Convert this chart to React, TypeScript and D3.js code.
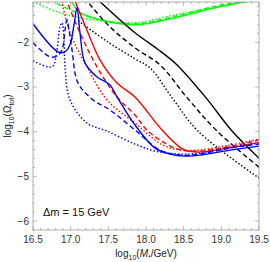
import React, { useEffect, useRef } from 'react';
import * as d3 from 'd3';

type Pt = [number, number];

// x = log10(M*/GeV), y = log10(Omega_tot)
const blackSolid: Pt[] = [[17.33, -1.0], [17.854, -1.789], [18.15, -2.15], [18.412, -2.507], [18.8, -3.25], [19.142, -3.987], [19.5, -4.592]];
const blackDashed: Pt[] = [[17.18, -1.0], [17.5, -1.62], [17.854, -2.126], [18.186, -2.507], [18.55, -3.25], [18.943, -3.987], [19.5, -4.794]];
const blackDotted: Pt[] = [[17.1, -1.52], [17.5, -2.0], [17.854, -2.372], [18.053, -2.574], [18.35, -3.25], [18.69, -3.987], [19.5, -5.04]];

const redSolid: Pt[] = [[17.04, -1.0], [17.23, -1.789], [17.389, -2.395], [17.615, -2.91], [17.854, -3.224], [18.226, -3.987], [18.491, -4.39], [18.69, -4.457], [19.115, -4.36], [19.5, -4.24]];
const redDashed: Pt[] = [[16.93, -1.0], [17.124, -1.789], [17.35, -2.552], [17.615, -3.224], [17.854, -3.628], [18.027, -3.987], [18.385, -4.368], [18.65, -4.44], [19.115, -4.33], [19.5, -4.19]];
const redDotted: Pt[] = [[16.87, -1.0], [16.991, -1.789], [17.217, -2.552], [17.482, -3.291], [17.854, -3.807], [18.252, -4.323], [18.584, -4.42], [19.115, -4.3], [19.5, -4.166]];

const blueSolid: Pt[] = [[16.5, -1.587], [16.832, -2.215], [16.925, -2.215], [16.991, -2.058], [17.044, -1.61], [17.084, -1.228], [17.124, -1.789], [17.19, -2.462], [17.35, -2.776], [17.522, -2.955], [17.615, -3.224], [17.748, -3.583], [17.854, -3.852], [18.12, -4.368], [18.319, -4.502], [18.518, -4.547], [18.717, -4.525], [19.115, -4.413], [19.5, -4.323]];
const blueDashed: Pt[] = [[16.5, -2.013], [16.726, -2.327], [16.819, -2.305], [16.885, -2.17], [16.925, -1.722], [16.951, -1.498], [16.978, -1.722], [17.018, -2.17], [17.097, -2.91], [17.297, -3.291], [17.522, -3.516], [17.854, -3.964], [18.186, -4.413], [18.451, -4.525], [18.717, -4.502], [19.115, -4.368], [19.5, -4.278]];
const blueDotted: Pt[] = [[16.5, -2.417], [16.699, -2.552], [16.766, -2.53], [16.819, -2.17], [16.858, -1.655], [16.885, -1.565], [16.912, -1.94], [16.925, -2.552], [16.991, -3.291], [17.217, -3.807], [17.482, -3.987], [17.854, -4.278], [18.12, -4.435], [18.451, -4.502], [18.717, -4.48], [19.115, -4.345], [19.5, -4.256]];

const greenSolid: Pt[] = [[17.0, -1.05], [17.12, -1.33], [17.389, -1.498], [17.854, -1.61], [18.385, -1.453], [18.916, -1.228], [19.314, -1.094], [19.4, -1.07]];
const greenDashed: Pt[] = [[16.72, -1.05], [17.058, -1.32], [17.389, -1.49], [17.854, -1.587], [18.385, -1.42], [18.956, -1.18], [19.38, -1.08], [19.45, -1.06]];
const greenDotted: Pt[] = [[16.5, -1.094], [16.858, -1.341], [17.297, -1.498], [17.854, -1.565], [18.385, -1.386], [18.956, -1.206], [19.447, -1.05], [19.5, -1.04]];

const series = [
  { data: greenDotted, color: '#00ff00', dash: '1.5,2' },
  { data: greenDashed, color: '#00ff00', dash: '5,3' },
  { data: greenSolid, color: '#00ff00', dash: '' },
  { data: blackDotted, color: '#000000', dash: '1.5,2' },
  { data: blackDashed, color: '#000000', dash: '5,3' },
  { data: blackSolid, color: '#000000', dash: '' },
  { data: redDotted, color: '#ff0000', dash: '1.5,2' },
  { data: redDashed, color: '#ff0000', dash: '5,3' },
  { data: redSolid, color: '#ff0000', dash: '' },
  { data: blueDotted, color: '#0000ff', dash: '1.5,2' },
  { data: blueDashed, color: '#0000ff', dash: '5,3' },
  { data: blueSolid, color: '#0000ff', dash: '' },
];

const xTicks = [16.5, 17.0, 17.5, 18.0, 18.5, 19.0, 19.5];
const yTicks = [-6, -5, -4, -3, -2];

const W = 270;
const H = 262;

const App = () => {
  const svgRef = useRef<SVGSVGElement>(null);

  useEffect(() => {
    const margin = { top: 2, right: 11, bottom: 32, left: 33 };
    const svg = d3.select(svgRef.current);
    svg.selectAll('*').remove();

    const x = d3.scaleLinear().domain([16.5, 19.5]).range([margin.left, W - margin.right]);
    const y = d3.scaleLinear().domain([-6.2, -1.1]).range([H - margin.bottom, margin.top]);

    svg.append('defs').append('clipPath').attr('id', 'plotclip')
      .append('rect')
      .attr('x', margin.left).attr('y', margin.top)
      .attr('width', W - margin.left - margin.right)
      .attr('height', H - margin.top - margin.bottom);

    const line = d3.line<Pt>()
      .x(d => x(d[0]))
      .y(d => y(d[1]))
      .curve(d3.curveCatmullRom.alpha(0.5));

    const g = svg.append('g').attr('clip-path', 'url(#plotclip)');
    series.forEach(s => {
      g.append('path')
        .attr('d', line(s.data))
        .attr('fill', 'none')
        .attr('stroke', s.color)
        .attr('stroke-width', 1.4)
        .attr('stroke-dasharray', s.dash || null);
    });

    // frame
    const frameColor = '#999';
    const x0 = margin.left, x1 = W - margin.right, y0 = margin.top, y1 = H - margin.bottom;
    svg.append('rect')
      .attr('x', x0).attr('y', y0).attr('width', x1 - x0).attr('height', y1 - y0)
      .attr('fill', 'none').attr('stroke', frameColor).attr('stroke-width', 0.8);

    const xMinor = d3.range(16.5, 19.501, 0.1);
    const yMinor = d3.range(-6.2, -1.09, 0.2);
    xMinor.forEach(v => {
      const major = xTicks.some(t => Math.abs(t - v) < 1e-6);
      const len = major ? 4 : 2;
      svg.append('line').attr('x1', x(v)).attr('x2', x(v)).attr('y1', y1).attr('y2', y1 - len).attr('stroke', frameColor).attr('stroke-width', 0.7);
      svg.append('line').attr('x1', x(v)).attr('x2', x(v)).attr('y1', y0).attr('y2', y0 + len).attr('stroke', frameColor).attr('stroke-width', 0.7);
    });
    yMinor.forEach(v => {
      const major = yTicks.some(t => Math.abs(t - v) < 1e-6);
      const len = major ? 4 : 2;
      svg.append('line').attr('y1', y(v)).attr('y2', y(v)).attr('x1', x0).attr('x2', x0 + len).attr('stroke', frameColor).attr('stroke-width', 0.7);
      svg.append('line').attr('y1', y(v)).attr('y2', y(v)).attr('x1', x1).attr('x2', x1 - len).attr('stroke', frameColor).attr('stroke-width', 0.7);
    });

    const font = 'Liberation Sans, Arial, sans-serif';
    xTicks.forEach(t => {
      svg.append('text').attr('x', x(t)).attr('y', y1 + 13)
        .attr('text-anchor', 'middle').attr('font-family', font).attr('font-size', 10).attr('fill', '#333')
        .text(d3.format('.1f')(t));
    });
    yTicks.forEach(t => {
      svg.append('text').attr('x', x0 - 4).attr('y', y(t) + 3.5)
        .attr('text-anchor', 'end').attr('font-family', font).attr('font-size', 10).attr('fill', '#333')
        .text('\u2212' + Math.abs(t));
    });

    // axis titles
    const xt = svg.append('text').attr('x', (x0 + x1) / 2).attr('y', 257)
      .attr('text-anchor', 'middle').attr('font-family', font).attr('font-size', 10).attr('fill', '#222');
    xt.append('tspan').text('log');
    xt.append('tspan').attr('font-size', 7).attr('dy', 2.5).text('10');
    xt.append('tspan').attr('dy', -2.5).text('(');
    xt.append('tspan').attr('font-style', 'italic').text('M');
    xt.append('tspan').attr('font-size', 7).attr('dy', 2.5).text('*');
    xt.append('tspan').attr('dy', -2.5).text('/GeV)');

    const yt = svg.append('text')
      .attr('transform', `translate(11,${(y0 + y1) / 2}) rotate(-90)`)
      .attr('text-anchor', 'middle').attr('font-family', font).attr('font-size', 10).attr('fill', '#222');
    yt.append('tspan').text('log');
    yt.append('tspan').attr('font-size', 7).attr('dy', 2.5).text('10');
    yt.append('tspan').attr('dy', -2.5).text('(\u03A9');
    yt.append('tspan').attr('font-size', 7).attr('dy', 2.5).text('tot');
    yt.append('tspan').attr('dy', -2.5).text(')');

    svg.append('text').attr('x', 43).attr('y', 216)
      .attr('font-family', font).attr('font-size', 11).attr('fill', '#111')
      .text('\u0394m = 15 GeV');
  }, []);

  return (
    <svg ref={svgRef} width={W} height={H}
      style={{ position: 'absolute', left: 0, top: 0, background: '#fff' }} />
  );
};

export default App;
